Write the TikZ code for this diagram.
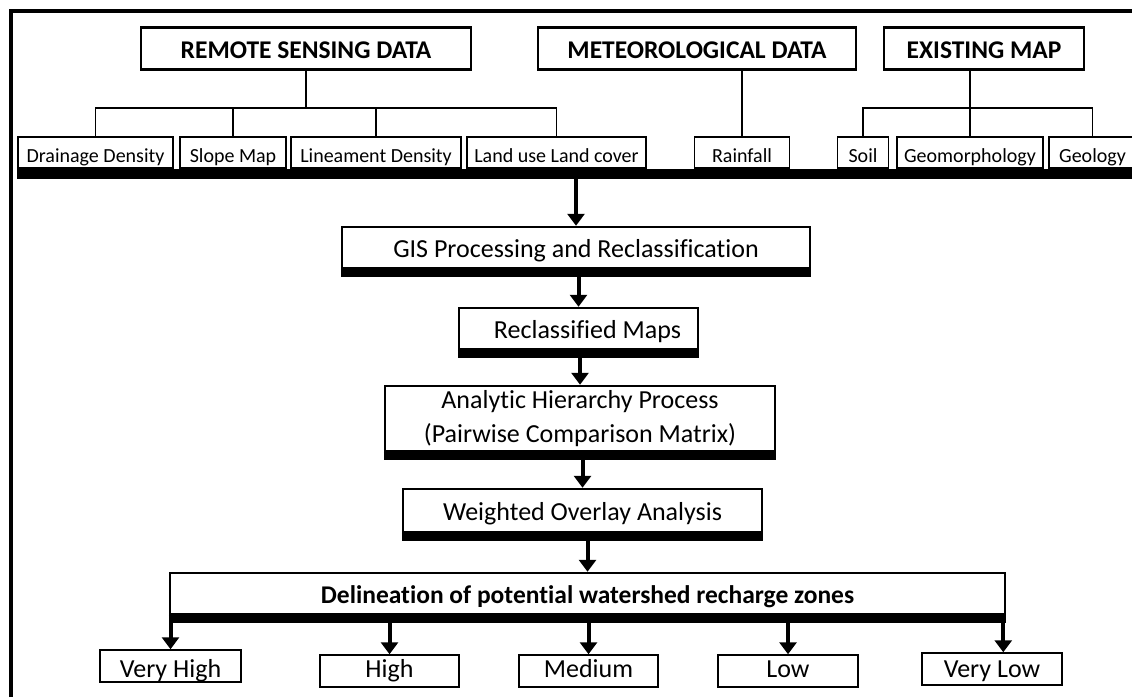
\documentclass[tikz,border=0pt]{standalone}
\usepackage{fontspec}
\setmainfont[Ligatures=NoCommon]{Carlito}
\usetikzlibrary{arrows.meta}
\begin{document}
\begin{tikzpicture}[x=1pt, y=-1pt,
    head/.style = {draw, line width=2.5pt, inner sep=0pt, minimum height=42pt, text height=20pt, text depth=0pt, font=\bfseries\fontsize{25.5}{30}\selectfont},
    leaf/.style = {draw, line width=1.5pt, inner sep=0pt, minimum height=31pt, text height=20pt, text depth=1pt, font=\fontsize{20}{24}\selectfont},
    proc/.style = {draw, line width=2.5pt, inner sep=0pt, align=center, text height=20pt, text depth=0pt, font=\fontsize{26}{34}\selectfont},
    zone/.style = {draw, line width=1.5pt, inner sep=0pt, minimum height=32pt, text height=12pt, text depth=0pt, font=\fontsize{26}{30}\selectfont},
    link/.style = {line width=1.5pt},
    arr/.style = {line width=4pt, -{Triangle[width=17pt,length=12pt]}},
    base/.style = {line width=8pt}]
    \useasboundingbox (0,0) rectangle (1132,697);
    \draw[line width=4pt] (10.5,697) -- (10.5,10.5) -- (1132,10.5);
    \node[head, minimum width=330pt] (rs) at (306,48.5) {REMOTE SENSING DATA};
    \node[head, minimum width=318pt] (met) at (697,48.5) {METEOROLOGICAL DATA};
    \node[head, minimum width=200pt] (em) at (984,48.5) {EXISTING MAP};
    \node[leaf, minimum width=155pt] (dd) at (95.5,152.5) {Drainage Density};
    \node[leaf, minimum width=106pt] (slope) at (233,152.5) {Slope Map};
    \node[leaf, minimum width=170pt] (lin) at (376,152.5) {Lineament Density};
    \node[leaf, minimum width=179pt] (lulc) at (556.5,152.5) {Land use Land cover};
    \node[leaf, minimum width=95pt] (rain) at (742,152.5) {Rainfall};
    \node[leaf, minimum width=51pt] (soil) at (863,152.5) {Soil};
    \node[leaf, minimum width=146pt] (geom) at (970,152.5) {Geomorphology};
    \node[leaf, minimum width=87pt] (geol) at (1092.5,152.5) {Geology};
    \coordinate (rsj) at (306,108);
    \coordinate (emj) at (970,108);
    \draw[link] (rs.south) -- (rsj);
    \draw[link] (dd.north) -- (dd.north |- rsj) -- (lulc.north |- rsj) -- (lulc.north);
    \foreach \n in {slope,lin} \draw[link] (\n.north |- rsj) -- (\n.north);
    \draw[link] (rain.north) -- (rain.north |- met.south);
    \draw[link] (geom.north) -- (geom.north |- em.south);
    \draw[link] (soil.north) -- (soil.north |- emj) -- (geol.north |- emj) -- (geol.north);
    \fill (dd.south west) rectangle ([yshift=-10pt]geol.south east);
    \node[proc, minimum width=468pt, minimum height=41pt] (gis) at (576,247.5) {GIS Processing and Reclassification};
    \node[proc, minimum width=239pt, minimum height=41pt] (recl) at (578.5,328.5) {\hspace{18pt}Reclassified Maps};
    \node[proc, minimum width=390pt, minimum height=65pt, text height=, text depth=] (ahp) at (580,418.5) {Analytic Hierarchy Process\\(Pairwise Comparison Matrix)};
    \node[proc, minimum width=359pt, minimum height=43pt] (woa) at (582.5,510.5) {Weighted Overlay Analysis};
    \node[proc, minimum width=835pt, minimum height=41pt, text height=19pt, font=\bfseries\fontsize{25.5}{30}\selectfont] (deli) at (587.5,593.5) {Delineation of potential watershed recharge zones};
    \foreach \n in {gis,recl,ahp,woa,deli} \draw[base] ([yshift=-4pt]\n.south west) -- ([yshift=-4pt]\n.south east);
    \draw[arr] (gis.north |- dd.south) -- (gis.north);
    \draw[arr] (recl.north |- gis.south) -- (recl.north);
    \draw[arr] (ahp.north |- recl.south) -- (ahp.north);
    \draw[arr] (woa.north |- ahp.south) -- (woa.north);
    \draw[arr] (deli.north |- woa.south) -- (deli.north);
    \node[zone, minimum width=141pt, text height=22pt] (vh) at (170.5,666) {Very High};
    \node[zone, minimum width=139pt] (hi) at (389.5,671) {High};
    \node[zone, minimum width=139pt] (med) at (588.5,671) {Medium};
    \node[zone, minimum width=140pt] (lo) at (788,671) {Low};
    \node[zone, minimum width=140pt, text height=16pt] (vl) at (992,669) {Very Low};
    \foreach \n in {vh,hi,med,lo} \draw[arr] (\n.north |- deli.south) -- (\n.north);
    \draw[arr] ([xshift=-3pt]deli.south east) -- ([xshift=-3pt]deli.south east |- vl.north);
\end{tikzpicture}
\end{document}
